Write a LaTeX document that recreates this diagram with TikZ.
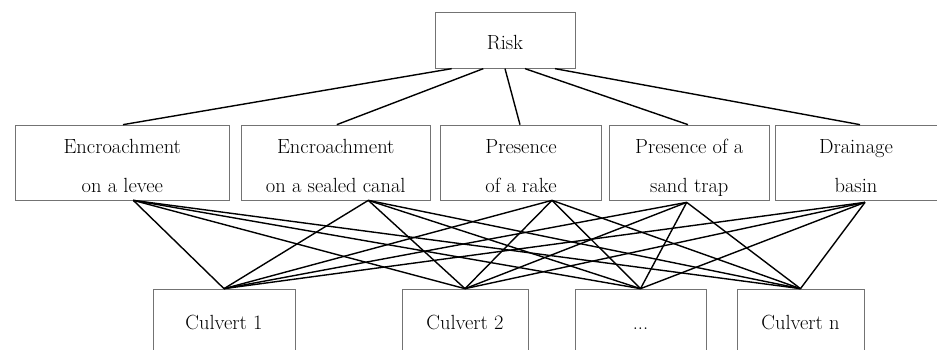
\documentclass[tikz,border=0pt]{standalone}
\begin{document}
\begin{tikzpicture}[x=1pt,y=-1pt,
  box/.style={draw=black!55, line width=0.7pt, rectangle, inner sep=0pt},
  lbl/.style={anchor=base, inner sep=0pt, font=\fontsize{20.5}{24}\selectfont},
  link/.style={line width=1.4pt, black}]
\useasboundingbox (0,0) rectangle (937,349);
\clip (0,0) rectangle (937,349);
% top
\node[box, minimum width=140pt, minimum height=55.6pt] (risk) at (505,40.5) {};
\node[lbl] (riskt) at (505,49) {Risk};
% middle boxes
\node[box, minimum width=213.3pt, minimum height=75pt] (m1) at (122.3,162.5) {};
\node[box, minimum width=188.5pt, minimum height=75pt] (m2) at (335.8,162.5) {};
\node[box, minimum width=161pt, minimum height=75pt] (m3) at (521,162.5) {};
\node[box, minimum width=160pt, minimum height=75pt] (m4) at (689.3,162.5) {};
\node[box, minimum width=170pt, minimum height=75pt] (m5) at (860.7,162.5) {};
\node[lbl] (m1a) at (122.3,153) {Encroachment};
\node[lbl] (m1b) at (122.3,192) {on a levee};
\node[lbl] (m2a) at (335.8,153) {Encroachment};
\node[lbl] (m2b) at (335.8,192) {on a sealed canal};
\node[lbl] (m3a) at (521,153) {Presence};
\node[lbl] (m3b) at (521,192) {of a rake};
\node[lbl] (m4a) at (689.3,153) {Presence of a};
\node[lbl] (m4b) at (689.3,192) {sand trap};
\node[lbl] (m5a) at (856,153) {Drainage};
\node[lbl] (m5b) at (856,192) {basin};
% bottom boxes
\node[box, minimum width=142pt, minimum height=90pt] (c1) at (224,334) {};
\node[box, minimum width=126pt, minimum height=90pt] (c2) at (465,334) {};
\node[box, minimum width=131pt, minimum height=90pt] (c3) at (640.5,334) {};
\node[box, minimum width=127pt, minimum height=90pt] (c4) at (800.5,334) {};
\node[lbl] (c1t) at (224,329) {Culvert 1};
\node[lbl] (c2t) at (465,329) {Culvert 2};
\node[lbl] (c3t) at (640.5,329) {...};
\node[lbl] (c4t) at (800.5,329) {Culvert n};
% anchor points
\coordinate (r1) at ([xshift=-53.3pt]risk.south);
\coordinate (r2) at ([xshift=-21.7pt]risk.south);
\coordinate (r3) at (risk.south);
\coordinate (r4) at ([xshift=20pt]risk.south);
\coordinate (r5) at ([xshift=50pt]risk.south);
\coordinate (t1) at ([xshift=0.7pt]m1.north);
\coordinate (t2) at ([xshift=1pt]m2.north);
\coordinate (t3) at ([xshift=-1pt]m3.north);
\coordinate (t4) at ([xshift=-1.3pt]m4.north);
\coordinate (t5) at ([xshift=-0.7pt]m5.north);
\coordinate (b1) at ([xshift=11pt]m1.south);
\coordinate (b2) at ([xshift=32.5pt]m2.south);
\coordinate (b3) at ([xshift=31pt]m3.south);
\coordinate (b4) at ([xshift=-2.6pt,yshift=-2pt]m4.south);
\coordinate (b5) at ([xshift=4.3pt,yshift=-2pt]m5.south);
% risk links
\draw[link] (r1) -- (t1);
\draw[link] (r2) -- (t2);
\draw[link] (r3) -- (t3);
\draw[link] (r4) -- (t4);
\draw[link] (r5) -- (t5);
% bipartite links
\foreach \m in {b1,b2,b3,b4,b5}{
  \foreach \c in {c1,c2,c3,c4}{
    \draw[link] (\m) -- (\c.north);
  }
}
\end{tikzpicture}
\end{document}
